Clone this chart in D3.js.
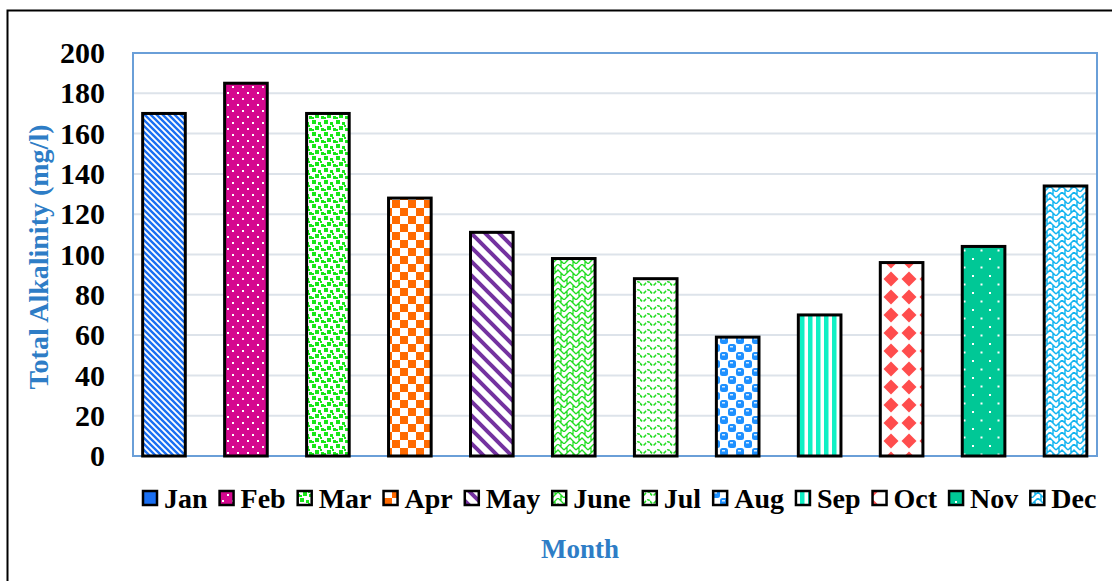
<!DOCTYPE html>
<html>
<head>
<meta charset="utf-8">
<script src="https://cdn.jsdelivr.net/npm/d3@7"></script>
<style>
  html, body { margin: 0; padding: 0; background: #fff; }
  svg { display: block; }
  text { font-family: "Liberation Serif", "Times New Roman", serif; font-weight: bold; }
</style>
</head>
<body>
<svg id="chart" width="1112" height="581"></svg>
<script>
// Monthly total alkalinity readings
const months = ["Jan", "Feb", "Mar", "Apr", "May", "June", "Jul", "Aug", "Sep", "Oct", "Nov", "Dec"];
const alkalinity = [170, 185, 170, 128, 111, 98, 88, 59, 70, 96, 104, 134];
const yTicks = [0, 20, 40, 60, 80, 100, 120, 140, 160, 180, 200];

const svg = d3.select("#chart");
const defs = svg.append("defs");

// Fill patterns, one per month
const patternMakers = [
  // Jan: dense downward diagonal blue stripes
  p => {
    p.attr("width", 6).attr("height", 6);
    p.append("rect").attr("width", 6).attr("height", 6).attr("fill", "#fff");
    p.append("path").attr("d", "M-1,-1 L7,7 M-4,2 L4,10 M2,-4 L10,4")
      .attr("stroke", "#1a6ff2").attr("stroke-width", 2.4);
  },
  // Feb: magenta with small white dots
  p => {
    p.attr("width", 10).attr("height", 12);
    p.append("rect").attr("width", 10).attr("height", 12).attr("fill", "#d5088f");
    p.append("rect").attr("x", 2).attr("y", 2).attr("width", 2).attr("height", 2).attr("fill", "#fff");
    p.append("rect").attr("x", 7).attr("y", 8).attr("width", 2).attr("height", 2).attr("fill", "#fff");
  },
  // Mar: green confetti squares
  p => {
    p.attr("width", 12).attr("height", 12);
    p.append("rect").attr("width", 12).attr("height", 12).attr("fill", "#fff");
    [[0, 0, 4], [6, 2, 3], [3, 6, 4], [9, 8, 3], [0, 9, 2], [8, 5, 2]].forEach(([x, y, s]) =>
      p.append("rect").attr("x", x).attr("y", y).attr("width", s).attr("height", s).attr("fill", "#19e619"));
  },
  // Apr: orange checkerboard
  p => {
    p.attr("width", 16).attr("height", 16);
    p.append("rect").attr("width", 16).attr("height", 16).attr("fill", "#fff");
    p.append("rect").attr("width", 8).attr("height", 8).attr("fill", "#ff6a00");
    p.append("rect").attr("x", 8).attr("y", 8).attr("width", 8).attr("height", 8).attr("fill", "#ff6a00");
  },
  // May: wide purple diagonal stripes
  p => {
    p.attr("width", 14).attr("height", 14);
    p.append("rect").attr("width", 14).attr("height", 14).attr("fill", "#fff");
    p.append("path").attr("d", "M-2,-2 L16,16 M-9,5 L5,19 M5,-9 L19,5")
      .attr("stroke", "#7432a0").attr("stroke-width", 4);
  },
  // June: green shingle weave
  p => {
    p.attr("width", 12).attr("height", 12);
    p.append("rect").attr("width", 12).attr("height", 12).attr("fill", "#fff");
    p.append("path").attr("d", "M0,6 L6,0 L12,6 M0,12 L6,6 L12,12 M3,3 L3,9 M9,9 L9,12 M9,0 L9,3")
      .attr("stroke", "#22dd22").attr("stroke-width", 1.3).attr("fill", "none");
  },
  // Jul: green waves
  p => {
    p.attr("width", 10).attr("height", 8);
    p.append("rect").attr("width", 10).attr("height", 8).attr("fill", "#fff");
    p.append("path").attr("d", "M0,3 Q2.5,7 5,4 Q7.5,0 10,3")
      .attr("stroke", "#22dd22").attr("stroke-width", 1.6).attr("fill", "none")
      .attr("stroke-dasharray", "3,1.5");
  },
  // Aug: blue spheres
  p => {
    p.attr("width", 16).attr("height", 16);
    p.append("rect").attr("width", 16).attr("height", 16).attr("fill", "#fff");
    [[0, 0], [8, 8]].forEach(([x, y]) => {
      p.append("rect").attr("x", x).attr("y", y).attr("width", 8).attr("height", 8)
        .attr("rx", 2.5).attr("fill", "#1e90ff");
      p.append("rect").attr("x", x + 2).attr("y", y + 2).attr("width", 3).attr("height", 1.5).attr("fill", "#d8ecff");
    });
    [[8, 0], [0, 8]].forEach(([x, y]) =>
      p.append("rect").attr("x", x + 2).attr("y", y + 2).attr("width", 4).attr("height", 4)
        .attr("fill", "#fff"));
  },
  // Sep: turquoise vertical stripes
  p => {
    p.attr("width", 8).attr("height", 8);
    p.append("rect").attr("width", 8).attr("height", 8).attr("fill", "#fff");
    p.append("rect").attr("x", 0).attr("width", 4.5).attr("height", 8).attr("fill", "#10f0c4");
  },
  // Oct: red diamonds
  p => {
    p.attr("width", 18).attr("height", 18);
    p.append("rect").attr("width", 18).attr("height", 18).attr("fill", "#fff");
    p.append("path").attr("d", "M9,1.5 L16.5,9 L9,16.5 L1.5,9 Z").attr("fill", "#ff4d4d");
  },
  // Nov: sea green with sparse white dots
  p => {
    p.attr("width", 17).attr("height", 17);
    p.append("rect").attr("width", 17).attr("height", 17).attr("fill", "#00c896");
    p.append("rect").attr("x", 3).attr("y", 3).attr("width", 2).attr("height", 2).attr("fill", "#fff");
    p.append("rect").attr("x", 11.5).attr("y", 11.5).attr("width", 2).attr("height", 2).attr("fill", "#fff");
  },
  // Dec: sky blue shingle weave
  p => {
    p.attr("width", 12).attr("height", 12);
    p.append("rect").attr("width", 12).attr("height", 12).attr("fill", "#fff");
    p.append("path").attr("d", "M0,6 L6,0 L12,6 M0,12 L6,6 L12,12 M3,3 L3,9 M9,9 L9,12 M9,0 L9,3")
      .attr("stroke", "#14b4f0").attr("stroke-width", 1.5).attr("fill", "none");
  }
];

months.forEach((m, i) => {
  const p = defs.append("pattern").attr("id", "pat" + i).attr("patternUnits", "userSpaceOnUse");
  patternMakers[i](p);
});
// legend marker for Jan is drawn solid
const legendFill = i => i === 0 ? "#1a6ff2" : `url(#pat${i})`;

// Outer chart frame
svg.append("rect").attr("x", 7.5).attr("y", 10.5).attr("width", 1120).attr("height", 600)
  .attr("fill", "#fff").attr("stroke", "#000").attr("stroke-width", 2);

const plot = { left: 133, right: 1097, top: 53, bottom: 456 };

const y = d3.scaleLinear().domain([0, 200]).range([plot.bottom, plot.top]);
const x = d3.scaleBand().domain(months).range([123, 1106.5]).paddingInner(0.48).paddingOuter(0.24);

// Gridlines
svg.append("g").selectAll("line").data(yTicks.filter(t => t > 0 && t < 200)).join("line")
  .attr("x1", plot.left).attr("x2", plot.right)
  .attr("y1", d => y(d)).attr("y2", d => y(d))
  .attr("stroke", "#dde3ea").attr("stroke-width", 2);

// Plot frame
svg.append("rect").attr("x", plot.left).attr("y", plot.top)
  .attr("width", plot.right - plot.left).attr("height", plot.bottom - plot.top)
  .attr("fill", "none").attr("stroke", "#6a9fd8").attr("stroke-width", 2);

// Bars
svg.append("g").selectAll("rect").data(months).join("rect")
  .attr("x", d => x(d))
  .attr("y", (d, i) => y(alkalinity[i]))
  .attr("width", x.bandwidth())
  .attr("height", (d, i) => y(0) - y(alkalinity[i]))
  .attr("fill", (d, i) => `url(#pat${i})`)
  .attr("stroke", "#000").attr("stroke-width", 3);

// Y axis labels
const yAxis = d3.axisLeft(y).tickValues(yTicks).tickSize(0).tickPadding(0);
const gy = svg.append("g").attr("transform", "translate(105,0)").call(yAxis);
gy.select(".domain").remove();
gy.selectAll("text").attr("font-size", 30).attr("fill", "#000")
  .style("font-family", '"Liberation Serif", "Times New Roman", serif').style("font-weight", "bold");

// Axis titles
svg.append("text").attr("transform", "translate(48,257) rotate(-90)")
  .attr("text-anchor", "middle").attr("font-size", 28).attr("fill", "#2e7dc6")
  .text("Total Alkalinity (mg/l)");
svg.append("text").attr("x", 580).attr("y", 558).attr("text-anchor", "middle")
  .attr("font-size", 27).attr("fill", "#2e7dc6").text("Month");

// Legend
const legend = svg.append("g").attr("transform", "translate(0,498)");
let lx = 143;
months.forEach((m, i) => {
  legend.append("rect").attr("x", lx).attr("y", -7).attr("width", 14).attr("height", 14)
    .attr("fill", legendFill(i)).attr("stroke", "#000").attr("stroke-width", 2.5);
  const t = legend.append("text").attr("x", lx + 21).attr("y", 10).attr("font-size", 28)
    .attr("fill", "#000").text(m);
  lx += 21 + t.node().getComputedTextLength() + 12;
});
</script>
</body>
</html>
